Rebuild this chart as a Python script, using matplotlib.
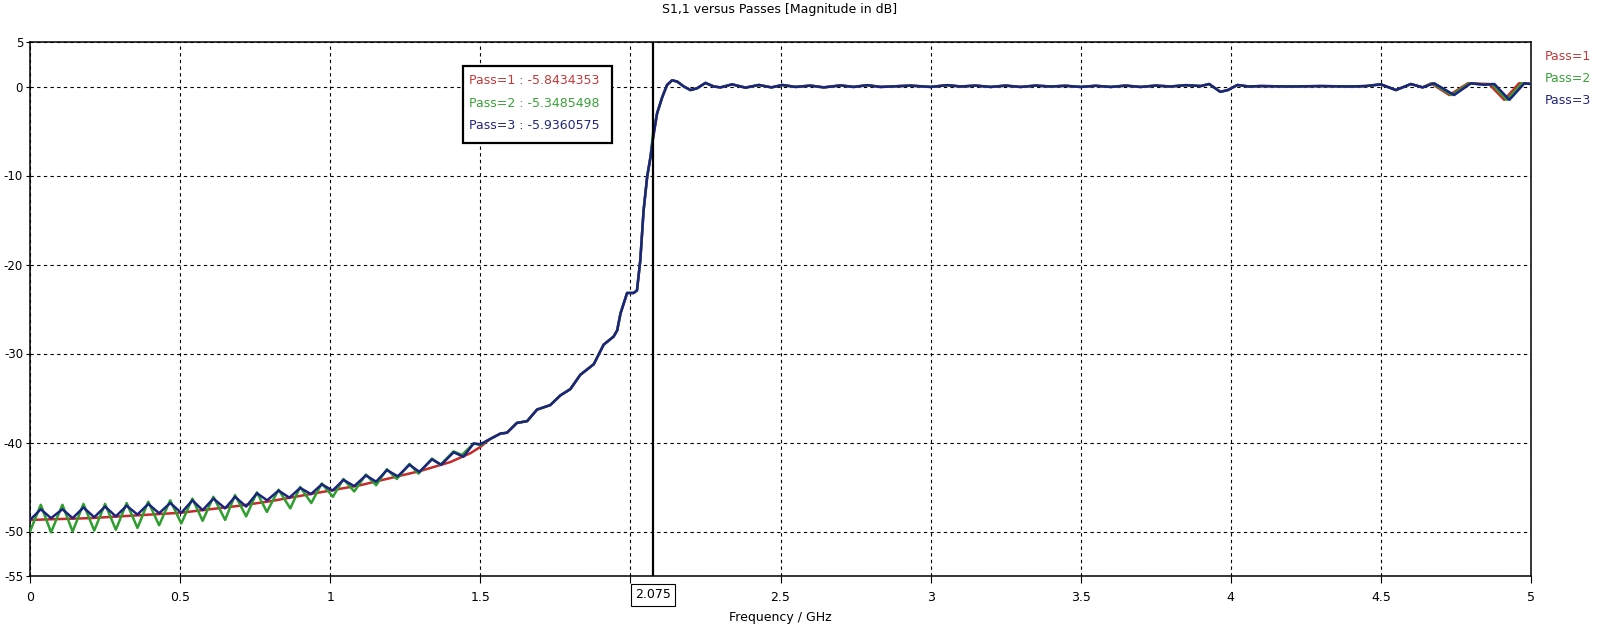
import matplotlib
matplotlib.use("Agg")
import matplotlib.pyplot as plt
from matplotlib.patches import Rectangle
from matplotlib.transforms import blended_transform_factory

# ---- data (frequency in GHz, magnitude in dB) ----
pass_names = ["Pass=1", "Pass=2", "Pass=3"]
marker_freq = 2.075
marker_values = ["-5.8434353", "-5.3485498", "-5.9360575"]

# low band, below 1.5 GHz
f_low_p1 = [0, 0.1, 0.2, 0.3, 0.4, 0.5, 0.6, 0.7, 0.8, 0.9, 1.0, 1.1, 1.2,
            1.3, 1.4, 1.467, 1.5]
s_low_p1 = [-48.7, -48.6, -48.5, -48.3, -48.1, -47.9, -47.5, -47.1, -46.6,
            -46.0, -45.4, -44.8, -44.0, -43.2, -42.2, -41.2, -40.5]

f_low_p2 = [0, 0.036, 0.07, 0.108, 0.142, 0.178, 0.214, 0.25, 0.286, 0.322,
            0.358, 0.394, 0.43, 0.467, 0.504, 0.541, 0.575, 0.611, 0.65,
            0.683, 0.72, 0.756, 0.789, 0.828, 0.867, 0.9, 0.937, 0.972,
            1.009, 1.044, 1.08, 1.119, 1.153, 1.189, 1.222, 1.264, 1.294,
            1.339, 1.367, 1.411, 1.439, 1.478, 1.5]
s_low_p2 = [-50.0, -47.0, -50.1, -47.0, -50.0, -46.9, -49.9, -46.9, -49.8,
            -46.8, -49.6, -46.65, -49.3, -46.5, -49.1, -46.3, -48.8, -46.1,
            -48.7, -45.9, -48.3, -45.6, -47.8, -45.3, -47.4, -45.0, -46.8,
            -44.6, -46.1, -44.1, -45.5, -43.6, -44.8, -43.0, -44.1, -42.4,
            -43.5, -41.8, -42.5, -41.0, -41.4, -40.1, -40.3]

f_low_p3 = [0, 0.036, 0.07, 0.108, 0.142, 0.178, 0.214, 0.25, 0.286, 0.322,
            0.358, 0.394, 0.43, 0.467, 0.504, 0.541, 0.575, 0.611, 0.65,
            0.683, 0.72, 0.756, 0.79, 0.828, 0.864, 0.9, 0.936, 0.972,
            1.008, 1.044, 1.08, 1.119, 1.153, 1.189, 1.225, 1.264, 1.297,
            1.339, 1.37, 1.411, 1.444, 1.478, 1.5]
s_low_p3 = [-48.7, -47.5, -48.5, -47.5, -48.5, -47.3, -48.4, -47.2, -48.3,
            -47.1, -48.1, -46.9, -47.95, -46.8, -47.9, -46.5, -47.6, -46.3,
            -47.4, -46.1, -47.2, -45.7, -46.5, -45.4, -46.2, -45.1, -45.8,
            -44.7, -45.4, -44.2, -44.9, -43.7, -44.4, -43.1, -43.8, -42.5,
            -43.3, -41.9, -42.5, -41.1, -41.6, -40.1, -40.2]

# rising edge (all passes nearly identical)
f_edge = [1.533, 1.567, 1.589, 1.622, 1.656, 1.689, 1.733, 1.767, 1.8, 1.833,
          1.878, 1.911, 1.944, 1.956, 1.967, 1.989, 2.011, 2.022, 2.033,
          2.044, 2.056, 2.067]
s_edge = [-39.6, -39.0, -38.9, -37.8, -37.6, -36.3, -35.8, -34.7, -34.0,
          -32.4, -31.2, -29.0, -28.1, -27.4, -25.5, -23.2, -23.2, -22.9,
          -19.5, -13.9, -10.1, -7.9]
s_at_marker = [-5.84, -5.35, -5.94]
f_top = [2.089, 2.106, 2.122, 2.139, 2.156, 2.178, 2.2, 2.222, 2.25, 2.278,
         2.3, 2.339, 2.383, 2.428, 2.47, 2.506, 2.55, 2.6, 2.644, 2.7, 2.744,
         2.789, 2.833, 2.933, 3.0, 3.056, 3.1, 3.15, 3.2, 3.25, 3.3, 3.35,
         3.4, 3.45, 3.5, 3.55, 3.6, 3.65, 3.7, 3.75, 3.8, 3.85, 3.9, 3.928,
         3.965, 3.99, 4.022, 4.06, 4.1, 4.2, 4.3, 4.4, 4.45]
s_top = [-3.0, -1.2, 0.17, 0.7, 0.55, 0.0, -0.4, -0.2, 0.4, 0.0, -0.1, 0.24,
         -0.13, 0.17, -0.1, 0.17, -0.05, 0.1, -0.1, 0.12, -0.05, 0.15, -0.05,
         0.1, -0.05, 0.15, 0.0, 0.1, -0.05, 0.1, -0.05, 0.1, 0.0, 0.08,
         -0.05, 0.08, -0.05, 0.1, -0.05, 0.1, 0.0, 0.15, 0.05, 0.28, -0.6,
         -0.4, 0.17, 0.0, 0.05, 0.0, 0.05, 0.0, 0.05]

# upper end of the band, where the passes separate
f_end_p1 = [4.5, 4.55, 4.6, 4.639, 4.667, 4.728, 4.79, 4.86, 4.911, 4.96, 5.0]
s_end_p1 = [0.24, -0.4, 0.28, -0.1, 0.36, -0.96, 0.36, 0.28, -1.5, 0.36, 0.3]
f_end_p2 = [4.5, 4.55, 4.6, 4.639, 4.672, 4.736, 4.795, 4.845, 4.87, 4.92,
            4.97, 5.0]
s_end_p2 = [0.24, -0.4, 0.28, -0.1, 0.36, -0.96, 0.36, 0.2, 0.28, -1.5,
            0.36, 0.28]
f_end_p3 = [4.5, 4.55, 4.6, 4.639, 4.678, 4.744, 4.8, 4.844, 4.878, 4.928,
            4.978, 5.0]
s_end_p3 = [0.24, -0.4, 0.28, -0.1, 0.36, -0.96, 0.36, 0.2, 0.28, -1.5,
            0.36, 0.28]

colors = ["#c62b2b", "#2e9e2e", "#1b2580"]
text_colors = ["#c03a3a", "#3aa03a", "#22287a"]

lows = [(f_low_p1, s_low_p1), (f_low_p2, s_low_p2), (f_low_p3, s_low_p3)]
ends = [(f_end_p1, s_end_p1), (f_end_p2, s_end_p2), (f_end_p3, s_end_p3)]

plt.rcParams['font.family'] = ['DejaVu Sans']
plt.rcParams['font.size'] = 9
plt.rcParams['axes.unicode_minus'] = False

fig = plt.figure(figsize=(15.97, 6.30), dpi=100)
W, H = 1597.0, 630.0
ax = fig.add_axes([30 / W, 1 - 576 / H, (1531 - 30) / W, (576 - 42) / H])

for i in range(3):
    fl, sl = lows[i]
    fe, se = ends[i]
    freqs = fl + f_edge + [marker_freq] + f_top + fe
    vals = sl + s_edge + [s_at_marker[i]] + s_top + se
    ax.plot(freqs, vals, color=colors[i], lw=1.8, solid_joinstyle='round',
            zorder=3 + i)

ax.set_xlim(0, 5)
ax.set_ylim(-55, 5)
ax.set_yticks([5, 0, -10, -20, -30, -40, -50, -55])
ax.set_xticks([0, 0.5, 1, 1.5, 2, 2.5, 3, 3.5, 4, 4.5, 5])
ax.set_xticklabels(["0", "0.5", "1", "1.5", "", "2.5", "3", "3.5", "4",
                    "4.5", "5"])
ax.grid(True, color='black', linestyle=(0, (3, 3)), linewidth=0.8)
ax.tick_params(axis='y', length=3, width=0.8, pad=2, labelsize=8.5)
ax.tick_params(axis='x', length=5, width=0.8, pad=6, labelsize=9)
for sp in ax.spines.values():
    sp.set_linewidth(1.1)

# marker line and its label box
ax.axvline(marker_freq, color='black', lw=1.6, zorder=8)
trans = blended_transform_factory(ax.transData, ax.transAxes)
ax.text(marker_freq, -0.035, "2.075", transform=trans, ha='center',
        va='center', fontsize=9,
        bbox=dict(boxstyle='square,pad=0.35', fc='white', ec='black', lw=0.8))

# marker value box
ax.add_patch(Rectangle((1.443, -6.38), 0.496, 8.72, fc='white', ec='black',
                       lw=1.6, zorder=9))
for i, y in enumerate([0.73, -1.89, -4.40]):
    ax.text(1.462, y, pass_names[i] + " : " + marker_values[i],
            color=text_colors[i], fontsize=9, va='center', ha='left',
            zorder=10)

# right hand legend
for i, y in enumerate([56, 79, 101]):
    fig.text(1545 / W, 1 - y / H, pass_names[i], color=text_colors[i],
             fontsize=9, va='center', ha='left')

fig.text(780 / W, 1 - 10 / H, "S1,1 versus Passes [Magnitude in dB]",
         ha='center', va='center', fontsize=9)
fig.text(780 / W, 1 - 618 / H, "Frequency / GHz", ha='center', va='center',
         fontsize=9)

plt.savefig('out.png', dpi=100)
